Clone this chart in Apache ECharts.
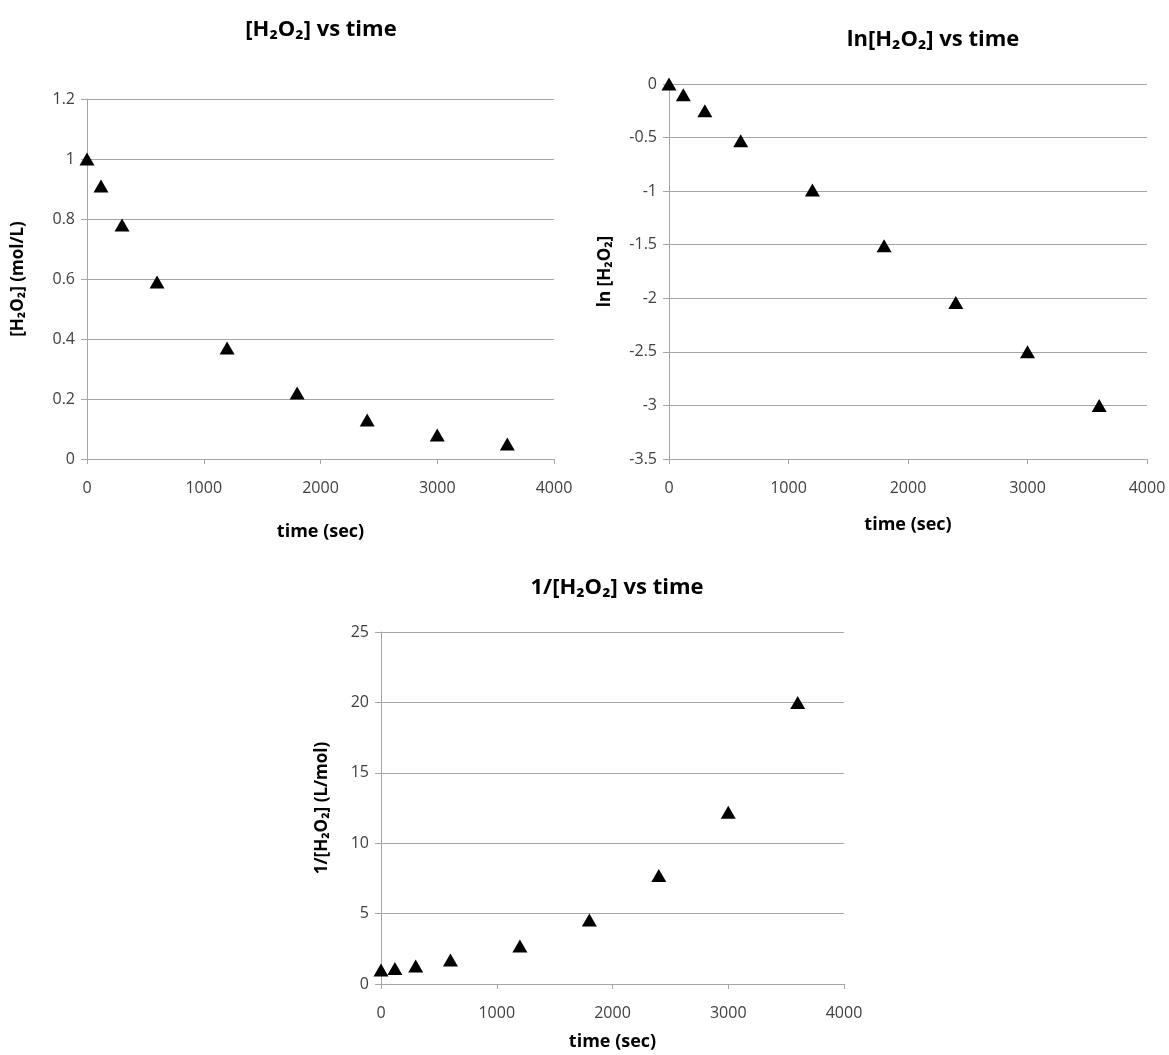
<!DOCTYPE html>
<html>
<head>
<meta charset="utf-8">
<script src="https://cdn.jsdelivr.net/npm/echarts@6/dist/echarts.min.js"></script>
<style>
html,body{margin:0;padding:0;background:#fff;}
#chart{width:1169px;height:1055px;}
</style>
</head>
<body>
<div id="chart"></div>
<script>
// sample times (sec)
var times = [0, 120, 300, 600, 1200, 1800, 2400, 3000, 3600];
// [H2O2] (mol/L)
var conc = [1.0, 0.91, 0.78, 0.59, 0.37, 0.22, 0.13, 0.08, 0.05];
// ln[H2O2]
var lnConc = [0, -0.1, -0.25, -0.53, -0.99, -1.51, -2.04, -2.5, -3.0];
// 1/[H2O2] (L/mol)
var invConc = [1.0, 1.1, 1.28, 1.7, 2.7, 4.55, 7.7, 12.2, 20.0];

var titles = ['[H₂O₂] vs time', 'ln[H₂O₂] vs time', '1/[H₂O₂] vs time'];
var yNames = ['[H₂O₂] (mol/L)', 'ln [H₂O₂]', '1/[H₂O₂] (L/mol)'];
var xName = 'time (sec)';

function pairs(ys) {
    var out = [];
    for (var i = 0; i < times.length; i++) out.push([times[i], ys[i]]);
    return out;
}

var FONT = '"Open Sans", "Liberation Sans", sans-serif';
var gridColor = '#a6a6a6';

function xAxisFor(idx, gap) {
    return {
        type: 'value', gridIndex: idx, min: 0, max: 4000, interval: 1000,
        name: xName, nameLocation: 'middle', nameGap: gap,
        nameTextStyle: {fontFamily: FONT, fontWeight: 'bold', fontSize: 18, color: '#000'},
        axisLine: {show: true, onZero: false, lineStyle: {color: gridColor}},
        axisTick: {show: true, length: 5, lineStyle: {color: gridColor}},
        axisLabel: {fontFamily: FONT, fontSize: 16, color: '#404040', margin: 21,
            formatter: function (v) { return String(v); }},
        splitLine: {show: false}
    };
}

function yAxisFor(idx, min, max, interval, gap) {
    return {
        type: 'value', gridIndex: idx, min: min, max: max, interval: interval,
        name: yNames[idx], nameLocation: 'middle', nameGap: gap, nameRotate: 90,
        nameTextStyle: {fontFamily: FONT, fontWeight: 'bold', fontSize: 17, color: '#000'},
        axisLine: {show: true, onZero: false, lineStyle: {color: gridColor}},
        axisTick: {show: true, length: 6, lineStyle: {color: gridColor}},
        axisLabel: {fontFamily: FONT, fontSize: 16, color: '#404040', margin: 12},
        splitLine: {show: true, lineStyle: {color: gridColor, width: 1}}
    };
}

function titleFor(idx, cx, top) {
    return {
        text: titles[idx], left: cx, top: top, textAlign: 'center',
        textStyle: {fontFamily: FONT, fontWeight: 'bold', fontSize: 22, color: '#000'}
    };
}

function scatterFor(idx, ys) {
    return {
        type: 'scatter', xAxisIndex: idx, yAxisIndex: idx,
        symbol: 'triangle', symbolSize: [15, 13],
        itemStyle: {color: '#000', opacity: 1},
        data: pairs(ys)
    };
}

var chart = echarts.init(document.getElementById('chart'));
var option = {
    animation: false,
    backgroundColor: '#fff',
    title: [
        titleFor(0, 316, 14),
        titleFor(1, 928, 24),
        titleFor(2, 612, 572)
    ],
    grid: [
        {left: 87, top: 99, width: 467, height: 360},
        {left: 669, top: 84, width: 478, height: 375},
        {left: 381, top: 632, width: 463, height: 352}
    ],
    xAxis: [
        xAxisFor(0, 64),
        xAxisFor(1, 57),
        xAxisFor(2, 49)
    ],
    yAxis: [
        yAxisFor(0, 0, 1.2, 0.2, 60),
        yAxisFor(1, -3.5, 0, 0.5, 55),
        yAxisFor(2, 0, 25, 5, 50)
    ],
    series: [
        scatterFor(0, conc),
        scatterFor(1, lnConc),
        scatterFor(2, invConc)
    ]
};
chart.setOption(option);
</script>
</body>
</html>
